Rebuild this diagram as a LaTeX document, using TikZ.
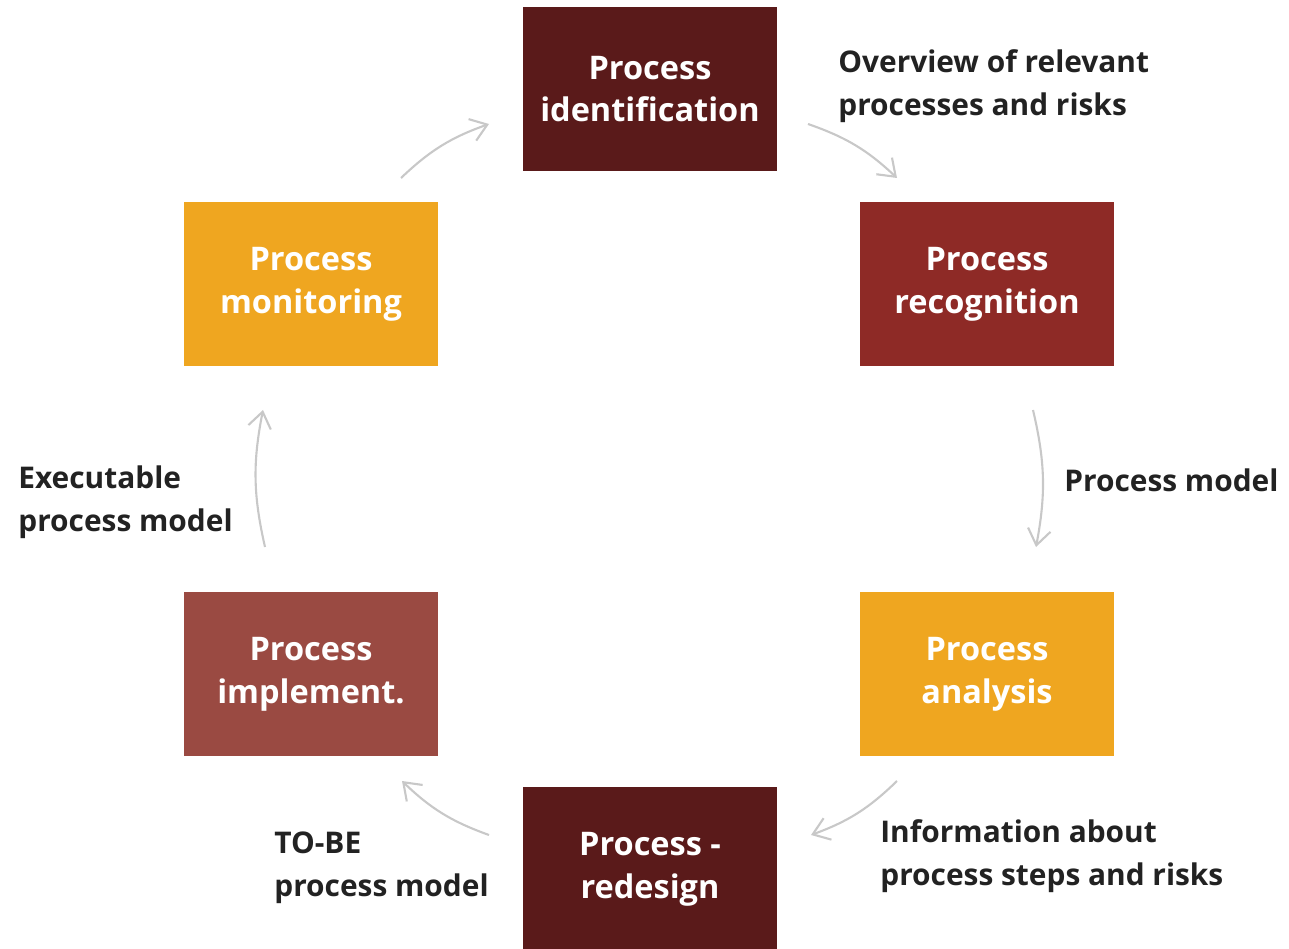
\documentclass[tikz,border=0pt]{standalone}
\usepackage{fontspec}
\setmainfont{Open Sans}
\usetikzlibrary{arrows.meta}
\definecolor{darkred}{HTML}{5A1A1A}
\definecolor{midred}{HTML}{8E2A26}
\definecolor{lightred}{HTML}{9A4A42}
\definecolor{amber}{HTML}{EFA620}
\definecolor{flowgray}{HTML}{C8C8C8}
\definecolor{labelgray}{HTML}{222222}
\tikzset{>={Straight Barb[length=9pt,width=13pt]}}
\tikzset{
    phase/.style={minimum width=5.08cm, minimum height=3.28cm, inner sep=0pt, align=center,
        text=white, font=\fontsize{18.5}{24.4}\selectfont\bfseries},
    note/.style={anchor=west, align=left, inner sep=0pt, text=labelgray,
        font=\fontsize{17}{24.4}\selectfont\bfseries},
    flow/.style={->, flowgray, line width=1.2pt, bend left=12}
}

\begin{document}
\begin{tikzpicture}[x=0.02cm,y=0.02cm]
    \useasboundingbox (0,0) rectangle (1289,948);
    \node[phase, fill=darkred] (ident) at (650,859) {Process\\identification};
    \node[phase, fill=midred] (recog) at (987,664) {Process\\recognition};
    \node[phase, fill=amber] (analysis) at (987,274) {Process\\analysis};
    \node[phase, fill=darkred] (redesign) at (650,79) {Process -\\redesign};
    \node[phase, fill=lightred] (implement) at (311,274) {Process\\implement.};
    \node[phase, fill=amber] (monitor) at (311,664) {Process\\monitoring};

    \node[note] (overview) at (838,862) {Overview of relevant\\processes and risks};
    \node[note] (model) at (1064,468) {Process model};
    \node[note] (info) at (880,92) {Information about\\process steps and risks};
    \node[note] (tobe) at (274,80) {TO-BE\\process model};
    \node[note] (exec) at (18,446) {Executable\\process model};

    \coordinate (a1) at (401,770); \coordinate (b1) at (489,824);
    \coordinate (a2) at (808,824); \coordinate (b2) at (897,770);
    \coordinate (a3) at (1033,538); \coordinate (b3) at (1036,401);
    \coordinate (a4) at (897,167); \coordinate (b4) at (811,113);
    \coordinate (a5) at (489,113); \coordinate (b5) at (402,167);
    \coordinate (a6) at (265,401); \coordinate (b6) at (263,538);
    \foreach \i in {1,...,6}
        \draw[flow] (a\i) to (b\i);
\end{tikzpicture}
\end{document}
